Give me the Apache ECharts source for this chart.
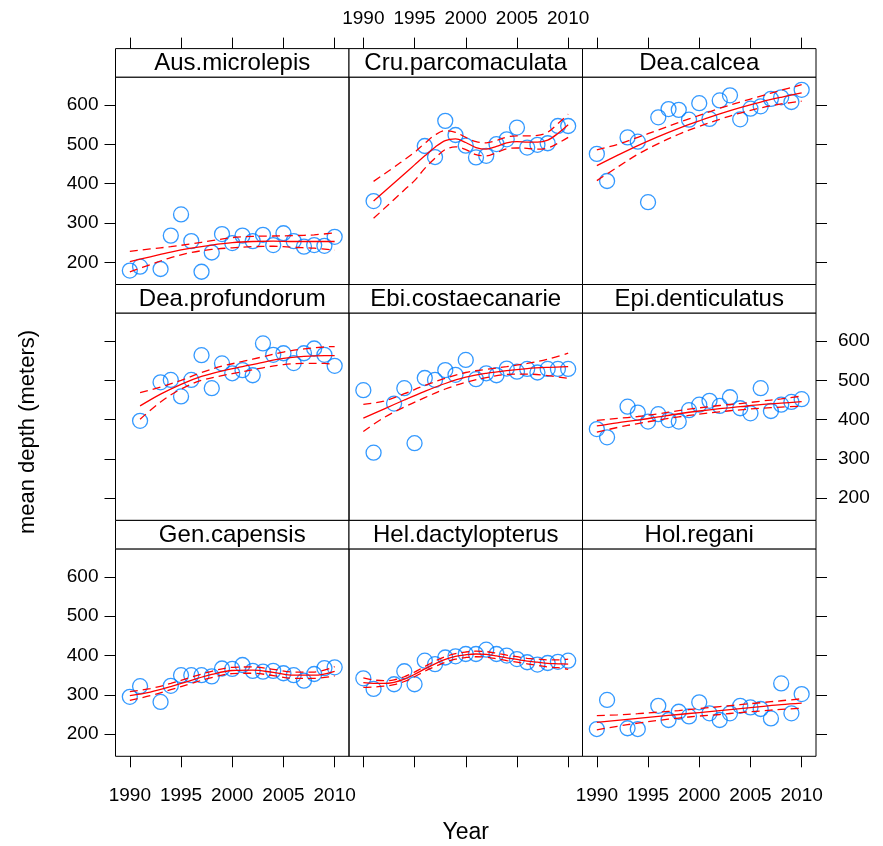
<!DOCTYPE html>
<html>
<head>
<meta charset="utf-8">
<script src="https://cdn.jsdelivr.net/npm/echarts@6/dist/echarts.min.js"></script>
<style>html,body{margin:0;padding:0;background:#fff}#c{width:883px;height:846px}</style>
</head>
<body>
<div id="c"></div>
<script>
// ---------------- DATA ----------------
const panelNames = ['Aus.microlepis','Cru.parcomaculata','Dea.calcea','Dea.profundorum','Ebi.costaecanarie','Epi.denticulatus','Gen.capensis','Hel.dactylopterus','Hol.regani'];
const xTicks = [1990, 1995, 2000, 2005, 2010];
const yTicks = [200, 300, 400, 500, 600];

const yrsStd  = [1990,1991,1993,1994,1995,1996,1997,1998,1999,2000,2001,2002,2003,2004,2005,2006,2007,2008,2009,2010];
const yrsCru  = [1991,1996,1997,1998,1999,2000,2001,2002,2003,2004,2005,2006,2007,2008,2009,2010];
const yrsDeaP = [1991,1993,1994,1995,1996,1997,1998,1999,2000,2001,2002,2003,2004,2005,2006,2007,2008,2009,2010];
const yrsHol  = [1990,1991,1993,1994,1996,1997,1998,1999,2000,2001,2002,2003,2004,2005,2006,2007,2008,2009,2010];

const depthAus  = [179,189,183,268,322,254,176,225,272,249,268,254,270,244,274,254,240,244,242,265];
const depthCru  = [356,496,468,560,524,497,467,471,501,513,543,492,499,503,547,547];
const depthDeaC = [476,407,518,507,353,569,590,588,563,605,565,612,625,564,591,597,616,620,608,639];
const depthDeaP = [397,495,501,459,501,564,480,543,518,526,513,594,565,569,544,569,581,565,537];
const depthEbi  = [475,316,441,480,340,506,501,526,514,552,503,518,513,530,522,529,520,529,529,529];
const depthEpi  = [376,355,433,418,395,414,399,395,424,438,448,435,457,429,416,480,422,438,445,452];
const depthGen  = [295,322,282,323,350,350,350,347,367,366,376,361,359,361,355,350,336,353,368,370];
const depthHel  = [342,315,327,360,327,387,378,395,398,404,404,415,404,400,391,383,377,381,384,387];
const depthHol  = [213,287,215,213,272,236,257,245,281,253,236,253,272,268,264,240,329,253,302];

// loess fit with upper / lower bands
const fitYrsEven = [1990,1992,1994,1996,1998,2000,2002,2004,2006,2008,2010];
const fitYrsCru  = [1991,1992,1993,1994,1995,1996,1997,1998,1999,2000,2001,2002,2003,2004,2005,2006,2007,2008,2009,2010];
const fitYrsDeaP = [1991,1993,1995,1997,1999,2001,2003,2005,2007,2009,2010];
const fitYrsHel  = [1990,1991,1992,1993,1994,1995,1996,1997,1998,1999,2000,2001,2002,2003,2004,2005,2006,2007,2008,2009,2010];

const fitAus = [202,214,226,236,244,250,253,254,253,253,253];
const upAus  = [228,234,240,247,255,263,266,267,268,270,275];
const loAus  = [176,194,212,225,233,237,240,241,238,236,231];

const fitCru = [356,379,402,425,448,471,493,510,514,505,492,488,495,504,507,506,506,511,528,550];
const upCru  = [406,424,442,461,480,503,524,535,531,518,507,504,510,519,522,522,523,531,553,577];
const loCru  = [312,336,360,384,408,439,465,487,494,487,474,471,479,489,491,490,488,491,503,518];

const fitDeaC = [446,472,497,520,541,560,578,594,608,620,631];
const upDeaC  = [486,500,518,537,556,574,592,608,623,638,652];
const loDeaC  = [408,442,475,502,526,546,564,580,593,603,610];

const fitDeaP = [435,465,490,510,524,535,546,556,561,563,563];
const upDeaP  = [469,483,500,520,536,548,560,572,580,585,586];
const loDeaP  = [401,445,478,500,512,522,532,540,543,543,540];

const fitEbi = [404,427,450,472,492,508,518,525,530,533,535];
const upEbi  = [439,447,466,487,505,520,528,535,543,554,569];
const loEbi  = [370,405,432,456,478,495,507,515,516,512,505];

const fitEpi = [384,392,399,407,415,422,428,433,438,442,446];
const upEpi  = [398,403,408,415,423,430,436,441,447,453,460];
const loEpi  = [368,380,390,399,407,414,420,425,429,432,434];

const fitGen = [298,307,321,337,352,362,363,357,350,350,360];
const upGen  = [308,316,329,345,360,370,371,365,358,358,372];
const loGen  = [286,298,313,329,344,354,355,349,342,342,348];

const fitHel = [331,329,329,332,340,352,366,379,390,398,402,404,403,399,394,390,386,383,380,379,378];
const upHel  = [343,338,336,338,346,358,372,386,397,405,409,411,410,406,401,397,393,391,389,389,391];
const loHel  = [319,320,322,326,334,346,360,372,383,391,395,397,396,392,387,383,379,375,371,369,365];

const fitHol = [230,235,240,245,250,255,260,265,270,275,279];
const upHol  = [247,249,252,256,260,265,270,275,280,285,290];
const loHol  = [211,220,228,235,241,246,250,255,259,263,266];

const panels = [
  {x: yrsStd,  y: depthAus,  fx: fitYrsEven, fit: fitAus,  up: upAus,  lo: loAus},
  {x: yrsCru,  y: depthCru,  fx: fitYrsCru,  fit: fitCru,  up: upCru,  lo: loCru},
  {x: yrsStd,  y: depthDeaC, fx: fitYrsEven, fit: fitDeaC, up: upDeaC, lo: loDeaC},
  {x: yrsDeaP, y: depthDeaP, fx: fitYrsDeaP, fit: fitDeaP, up: upDeaP, lo: loDeaP},
  {x: yrsStd,  y: depthEbi,  fx: fitYrsEven, fit: fitEbi,  up: upEbi,  lo: loEbi},
  {x: yrsStd,  y: depthEpi,  fx: fitYrsEven, fit: fitEpi,  up: upEpi,  lo: loEpi},
  {x: yrsStd,  y: depthGen,  fx: fitYrsEven, fit: fitGen,  up: upGen,  lo: loGen},
  {x: yrsStd,  y: depthHel,  fx: fitYrsHel,  fit: fitHel,  up: upHel,  lo: loHel},
  {x: yrsHol,  y: depthHol,  fx: fitYrsEven, fit: fitHol,  up: upHol,  lo: loHol}
];

// ---------------- LAYOUT ----------------
const FONT = '"Liberation Sans", Arial, sans-serif';
const colLeft = [115.5, 349, 582.5];
const colW = 233.5;
const rowTop = [48.6, 284.5, 520.4];
const stripH = 28.5;
const plotH = 207.4;
const X_MIN = 1988.6, X_MAX = 2011.4;
const Y_MIN = 143.6, Y_MAX = 671.4;
const TICK_LEN = 11;

const grids = [], xAxes = [], yAxes = [], series = [], graphics = [];
const tickStyle = {color: '#000', width: 1};
const labelStyle = {color: '#000', fontFamily: FONT, fontSize: 19, formatter: v => String(v)};

panels.forEach((p, i) => {
  const r = Math.floor(i / 3), c = i % 3;
  grids.push({left: colLeft[c], top: rowTop[r] + stripH, width: colW, height: plotH,
    show: true, borderColor: '#000', borderWidth: 1, backgroundColor: 'transparent'});

  // bottom x axis (data axis)
  xAxes.push({type: 'value', gridIndex: i, position: 'bottom', min: X_MIN, max: X_MAX,
    axisLine: {show: false}, splitLine: {show: false},
    axisTick: {show: r === 2, length: TICK_LEN, lineStyle: tickStyle, customValues: xTicks},
    axisLabel: Object.assign({show: r === 2 && c !== 1, margin: 30, customValues: xTicks}, labelStyle)});
  // top x axis (above strip)
  xAxes.push({type: 'value', gridIndex: i, position: 'top', offset: stripH, min: X_MIN, max: X_MAX,
    show: r === 0,
    axisLine: {show: false}, splitLine: {show: false},
    axisTick: {show: r === 0, length: TICK_LEN, lineStyle: tickStyle, customValues: xTicks},
    axisLabel: Object.assign({show: r === 0 && c === 1, margin: 20, customValues: xTicks}, labelStyle)});
  // left y axis (data axis)
  yAxes.push({type: 'value', gridIndex: i, position: 'left', min: Y_MIN, max: Y_MAX,
    axisLine: {show: false}, splitLine: {show: false},
    axisTick: {show: c === 0, length: TICK_LEN, lineStyle: tickStyle, customValues: yTicks},
    axisLabel: Object.assign({show: c === 0 && r !== 1, margin: 17, customValues: yTicks}, labelStyle)});
  // right y axis
  yAxes.push({type: 'value', gridIndex: i, position: 'right', min: Y_MIN, max: Y_MAX,
    show: c === 2,
    axisLine: {show: false}, splitLine: {show: false},
    axisTick: {show: c === 2, length: TICK_LEN, lineStyle: tickStyle, customValues: yTicks},
    axisLabel: Object.assign({show: c === 2 && r === 1, margin: 22, customValues: yTicks}, labelStyle)});

  const xi = 2 * i, yi = 2 * i;
  series.push({type: 'scatter', xAxisIndex: xi, yAxisIndex: yi, z: 2,
    symbol: 'circle', symbolSize: 15,
    itemStyle: {color: 'rgba(0,0,0,0)', borderColor: '#0080ff', borderWidth: 1.3},
    data: p.x.map((yr, k) => [yr, p.y[k]])});
  const mk = (arr, dashed) => ({type: 'line', xAxisIndex: xi, yAxisIndex: yi, z: 3,
    showSymbol: false, smooth: 0.35, silent: true,
    lineStyle: {color: '#ff0000', width: 1.3, type: dashed ? [8, 5] : 'solid'},
    data: p.fx.map((yr, k) => [yr, arr[k]])});
  series.push(mk(p.up, true), mk(p.lo, true), mk(p.fit, false));

  // strip
  graphics.push({type: 'rect', shape: {x: colLeft[c], y: rowTop[r], width: colW, height: stripH},
    style: {fill: '#fff', stroke: '#000', lineWidth: 1}, z: 10});
  graphics.push({type: 'text', x: colLeft[c] + colW / 2, y: rowTop[r] + stripH / 2 + 1, z: 11,
    style: {text: panelNames[i], fill: '#000', font: '24px ' + FONT, align: 'center', verticalAlign: 'middle'}});
});

graphics.push({type: 'text', x: colLeft[0] + (colLeft[2] + colW - colLeft[0]) / 2, y: 833, z: 11,
  style: {text: 'Year', fill: '#000', font: '23px ' + FONT, align: 'center', verticalAlign: 'middle'}});
graphics.push({type: 'text', x: 28, y: 432, rotation: Math.PI / 2, z: 11,
  style: {text: 'mean depth (meters)', fill: '#000', font: '22px ' + FONT, align: 'center', verticalAlign: 'middle'}});

const chart = echarts.init(document.getElementById('c'), null, {renderer: 'canvas', width: 883, height: 846});
chart.setOption({
  animation: false,
  backgroundColor: '#fff',
  grid: grids, xAxis: xAxes, yAxis: yAxes, series: series, graphic: graphics
});
</script>
</body>
</html>
